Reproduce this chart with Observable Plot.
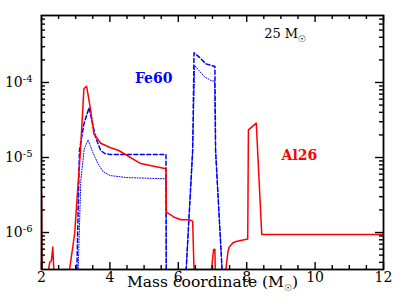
<!DOCTYPE html>
<html><head><meta charset="utf-8">
<script src="https://cdn.jsdelivr.net/npm/d3@7"></script>
<script src="https://cdn.jsdelivr.net/npm/@observablehq/plot@0.6"></script>
<style>
html,body{margin:0;padding:0;background:#fff;}
</style></head><body><div id="chart"></div>
<script>
// Al26 (red solid)
const al26X = [1.95, 2.0, 2.03, 2.16, 2.17, 2.24, 2.29, 2.33, 2.37, 2.38, 2.80, 2.82, 2.97, 3.07, 3.14, 3.24, 3.32, 3.44, 3.53, 3.73, 4.02, 4.26, 4.9, 5.64, 5.65, 5.88, 6.08, 6.32, 6.42, 6.49, 6.86, 7.03, 7.07, 7.10, 7.38, 7.40, 7.45, 7.49, 7.6, 7.69, 8.03, 8.05, 8.28, 8.44, 12.0];
const al26Y = [3.3e-6, 3.3e-6, 1e-7, 1e-7, 2.5e-7, 4.0e-7, 4.2e-7, 6.4e-7, 2.5e-7, 1e-7, 1e-7, 3.2e-7, 9.7e-7, 4.5e-6, 1.24e-5, 8.3e-5, 8.9e-5, 4.2e-5, 2.09e-5, 1.55e-5, 1.35e-5, 1.24e-5, 8.3e-6, 7.06e-6, 1.87e-6, 1.6e-6, 1.48e-6, 1.48e-6, 1.42e-6, 1e-7, 1e-7, 5.9e-7, 6.0e-7, 1e-7, 1e-7, 3.5e-7, 5.5e-7, 6.4e-7, 7.3e-7, 7.6e-7, 8.2e-7, 2.34e-5, 2.87e-5, 9.4e-7, 9.4e-7];
// Fe60 (blue dashed)
const fe60DashX = [3.01, 3.11, 3.24, 3.39, 3.58, 3.73, 3.85, 4.0, 5.64, 5.65, 6.17, 6.42, 6.46, 6.61, 6.81, 6.96, 7.07, 7.09, 7.34];
const fe60DashY = [1e-7, 1.24e-5, 2.8e-5, 4.6e-5, 1.87e-5, 1.24e-5, 1.13e-5, 1.1e-5, 1.1e-5, 1e-7, 1e-7, 1.24e-5, 2.49e-4, 2.18e-4, 1.77e-4, 1.69e-4, 1.63e-4, 1.24e-5, 1e-7];
// Fe60 (blue dotted)
const fe60DotX = [3.04, 3.15, 3.25, 3.36, 3.5, 3.65, 3.8, 4.0, 4.5, 5.64, 5.65, 6.17, 6.42, 6.48, 6.6, 6.76, 6.96, 7.06, 7.09, 7.34];
const fe60DotY = [1e-7, 5e-6, 1.3e-5, 1.72e-5, 1.17e-5, 8.3e-6, 6.5e-6, 5.75e-6, 5.4e-6, 5.2e-6, 1e-7, 1e-7, 1.24e-5, 1.69e-4, 1.45e-4, 1.2e-4, 1.06e-4, 1.04e-4, 1.24e-5, 1e-7];

// ticks
const xMajorTicks = [2, 4, 6, 8, 10, 12];
const xMinorTicks = [2.5, 3, 3.5, 4.5, 5, 5.5, 6.5, 7, 7.5, 8.5, 9, 9.5, 10.5, 11, 11.5];
const yMajorTicks = [1e-6, 1e-5, 1e-4];
const yMinorTicks = [4e-7, 5e-7, 6e-7, 7e-7, 8e-7, 9e-7, 2e-6, 3e-6, 4e-6, 5e-6, 6e-6, 7e-6, 8e-6, 9e-6, 2e-5, 3e-5, 4e-5, 5e-5, 6e-5, 7e-5, 8e-5, 9e-5, 2e-4, 3e-4, 4e-4, 5e-4, 6e-4, 7e-4];

// annotations
const annText = ["25 M☉", "Fe60", "Al26"];
const annX = [8.51, 5.28, 9.54];
const annY = [4.5e-4, 1.13e-4, 1.06e-5];
const xLabel = "Mass coordinate (M☉)";

const idx = a => d3.range(a.length);
const FONT = "DejaVu Serif";

const W = 407, H = 304, ML = 41, MR = 24, MT = 15, MB = 35;
const FW = W - ML - MR, FH = H - MT - MB;
const xDom = [2, 12];
const yDom = [Math.pow(10, -6.493), Math.pow(10, -3.107)];

function xTicks(values, side, len) {
  const o = {x: d => d, stroke: "black", strokeWidth: 1.4};
  if (side === "bottom") o.insetTop = FH - len; else o.insetBottom = FH - len;
  return Plot.tickX(values, o);
}
function yTicks(values, side, len) {
  const o = {y: d => d, stroke: "black", strokeWidth: 1.4};
  if (side === "left") o.insetRight = FW - len; else o.insetLeft = FW - len;
  return Plot.tickY(values, o);
}

const chart = Plot.plot({
  width: W, height: H,
  marginLeft: ML, marginRight: MR, marginTop: MT, marginBottom: MB,
  style: {fontFamily: FONT, background: "white", color: "black"},
  x: {domain: xDom},
  y: {type: "log", domain: yDom},
  marks: [
    Plot.line(idx(fe60DotX), {x: i => fe60DotX[i], y: i => fe60DotY[i], stroke: "#0000ff", strokeWidth: 1, strokeDasharray: "1,1.6", clip: true}),
    Plot.line(idx(fe60DashX), {x: i => fe60DashX[i], y: i => fe60DashY[i], stroke: "#0000ff", strokeWidth: 1.5, strokeDasharray: "4,2.5", clip: true}),
    Plot.line(idx(al26X), {x: i => al26X[i], y: i => al26Y[i], stroke: "#ff0000", strokeWidth: 1.5, clip: true}),
    // inward ticks on all sides
    xTicks(xMajorTicks, "bottom", 7), xTicks(xMinorTicks, "bottom", 4),
    xTicks(xMajorTicks, "top", 7), xTicks(xMinorTicks, "top", 4),
    yTicks(yMajorTicks, "left", 8), yTicks(yMinorTicks, "left", 4),
    yTicks(yMajorTicks, "right", 8), yTicks(yMinorTicks, "right", 4),
    Plot.frame({stroke: "black", strokeWidth: 1.8}),
    // tick labels
    Plot.axisX({anchor: "bottom", ticks: xMajorTicks, tickSize: 0, tickPadding: 3, fontSize: 14, tickFormat: d => String(d), label: null}),
    Plot.axisY({anchor: "left", ticks: yMajorTicks, tickSize: 0, tickPadding: 9, fontSize: 14, tickFormat: d => "10^" + Math.round(Math.log10(d)), label: null}),
    // x label
    Plot.text([xLabel], {frameAnchor: "bottom", dy: 17, fontSize: 15.5, text: d => d, fill: "black"}),
    // annotations
    Plot.text([0], {x: () => annX[0], y: () => annY[0], text: () => annText[0], textAnchor: "start", fontSize: 13, fill: "black"}),
    Plot.text([1], {x: () => annX[1], y: () => annY[1], text: () => annText[1], textAnchor: "middle", fontSize: 14, fontWeight: "bold", fill: "#0000ff"}),
    Plot.text([2], {x: () => annX[2], y: () => annY[2], text: () => annText[2], textAnchor: "middle", fontSize: 14, fontWeight: "bold", fill: "#ff0000"})
  ]
});

// superscripts / subscripts as real text
const ns = "http://www.w3.org/2000/svg";
chart.querySelectorAll("text").forEach(t => {
  const s = t.textContent;
  if (/^10\^/.test(s)) {
    const exp = s.slice(3);
    t.textContent = "";
    const a = document.createElementNS(ns, "tspan"); a.textContent = "10";
    const b = document.createElementNS(ns, "tspan"); b.textContent = exp;
    b.setAttribute("font-size", "10"); b.setAttribute("dy", "-5");
    t.append(a, b);
  } else if (s.includes("☉")) {
    const parts = s.split("☉");
    t.textContent = "";
    const a = document.createElementNS(ns, "tspan"); a.textContent = parts[0];
    const b = document.createElementNS(ns, "tspan"); b.textContent = "☉";
    b.setAttribute("font-size", "9"); b.setAttribute("dy", "4");
    t.append(a, b);
    if (parts[1]) {
      const c = document.createElementNS(ns, "tspan"); c.textContent = parts[1];
      c.setAttribute("dy", "-4");
      t.append(c);
    }
  }
});
document.getElementById("chart").append(chart);
</script>
</body></html>
